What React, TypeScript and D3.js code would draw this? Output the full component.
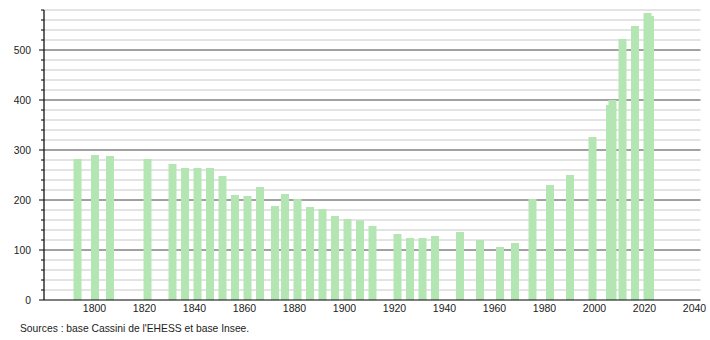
import React from "react";
import * as d3 from "d3";

const years = [1793, 1800, 1806, 1821, 1831, 1836, 1841, 1846, 1851, 1856, 1861, 1866, 1872, 1876, 1881, 1886, 1891, 1896, 1901, 1906, 1911, 1921, 1926, 1931, 1936, 1946, 1954, 1962, 1968, 1975, 1982, 1990, 1999, 2006, 2007, 2011, 2016, 2021, 2022];
const population = [282, 290, 288, 282, 272, 264, 264, 264, 248, 210, 208, 226, 188, 212, 202, 186, 182, 168, 162, 159, 148, 132, 124, 124, 128, 136, 120, 106, 114, 202, 230, 250, 326, 390, 400, 522, 548, 574, 568];
const xTicks = [1800, 1820, 1840, 1860, 1880, 1900, 1920, 1940, 1960, 1980, 2000, 2020, 2040];
const yMajor = [0, 100, 200, 300, 400, 500];
const yMinor = d3.range(20, 600, 20).filter((v) => v % 100 !== 0);
const sourceText = "Sources : base Cassini de l'EHESS et base Insee.";

export default function App() {
  const W = 710, H = 340;
  const left = 44, right = 700.5, top = 10, bottom = 300;
  const x = d3.scaleLinear().domain([1780, 1780 + (right - left - 0.5) / 2.5]).range([left + 0.5, right]);
  const y = d3.scaleLinear().domain([0, 580]).range([bottom, top]);
  const bw = 8;
  const font = "'Liberation Sans', Arial, sans-serif";
  return (
    <svg width={W} height={H} style={{ position: "absolute", left: 0, top: 0, background: "#fff" }} fontFamily={font}>
      {yMinor.map((v) => (
        <g key={"mi" + v}>
          <line x1={left} x2={right} y1={y(v)} y2={y(v)} stroke="#c8c8c8" strokeWidth={1} />
          <line x1={left - 3} x2={left} y1={y(v)} y2={y(v)} stroke="#000" strokeWidth={1} />
        </g>
      ))}
      {yMajor.filter((v) => v > 0).map((v) => (
        <line key={"ma" + v} x1={left} x2={right} y1={y(v)} y2={y(v)} stroke="#444" strokeWidth={1} />
      ))}
      {years.map((yr, i) => (
        <rect key={yr} x={x(yr) - bw / 2 + 0.5} y={y(population[i])} width={bw} height={bottom - y(population[i])} fill="#b3e6b3" />
      ))}
      <line x1={left} x2={left} y1={top} y2={bottom} stroke="#000" strokeWidth={1.2} />
      <line x1={left} x2={right} y1={bottom} y2={bottom} stroke="#000" strokeWidth={1.2} />
      {yMajor.map((v) => (
        <g key={"yl" + v}>
          <line x1={left - 5} x2={left} y1={y(v)} y2={y(v)} stroke="#000" strokeWidth={1} />
          <text x={31} y={y(v) + 4} textAnchor="end" fontSize={10.3} fill="#222">{v}</text>
        </g>
      ))}
      {xTicks.map((t) => (
        <text key={"xl" + t} x={x(t)} y={312} textAnchor="middle" fontSize={10.5} fill="#222">{t}</text>
      ))}
      <text x={20} y={332} fontSize={10.3} fill="#222">{sourceText}</text>
    </svg>
  );
}
